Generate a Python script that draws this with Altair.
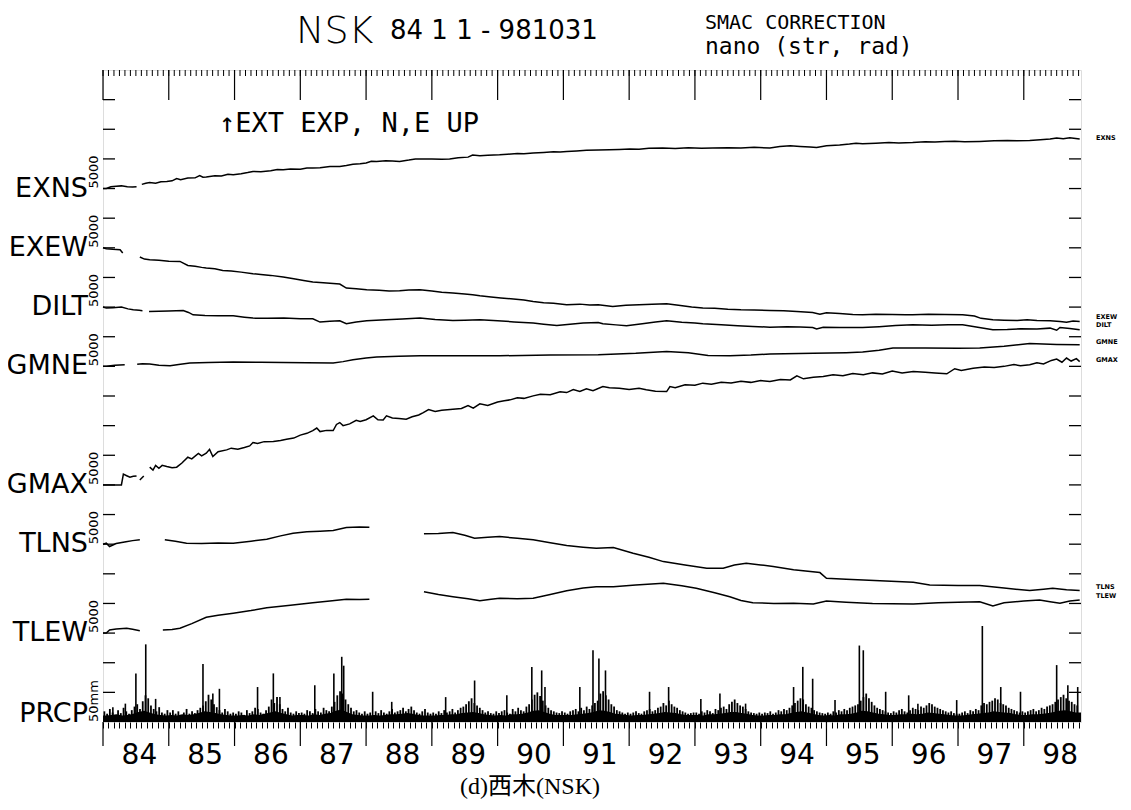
import altair as alt
import pandas as pd

# ---------------- data ----------------
X0, X1 = 84.0, 98.87          # decimal years (yy)
Y_MAX = 22                    # vertical units; 1 unit = 5000 nano or 50 mm
NANO_PER_UNIT = 5000
MM_PER_UNIT = 50

series_names = ["EXNS", "EXEW", "DILT", "GMNE", "GMAX", "TLNS", "TLEW"]
series_base = [18, 16, 14, 12, 8, 6, 3]
right_label_u = [19.72, 13.67, 13.40, 12.83, 12.22, 4.56, 4.25]

# each trace: list of segments (gaps in the record), each segment = (years, nano)
exns = [
    ([84.00, 84.05, 84.12, 84.20, 84.28, 84.37, 84.45, 84.51],
     [0, 0, 300, 400, 450, 300, 250, 300]),
    ([84.59, 84.65, 84.71, 84.80, 84.88, 84.97, 85.05, 85.12, 85.18, 85.29, 85.40, 85.47, 85.52, 85.57,
      85.70, 85.80, 85.90, 85.98, 86.10, 86.20, 86.28, 86.40, 86.55, 86.65, 86.74, 86.85, 87.00, 87.10,
      87.19, 87.30, 87.45, 87.60, 87.70, 87.80, 87.91, 88.00, 88.08, 88.16, 88.30, 88.40, 88.51, 88.65,
      88.75, 88.82, 89.00, 89.15, 89.27, 89.40, 89.55, 89.62, 89.73, 89.85, 90.03, 90.15, 90.30, 90.40,
      90.54, 90.70, 90.85, 90.95, 91.05, 91.20, 91.35, 91.53, 91.70, 91.85, 92.01, 92.15, 92.30, 92.51,
      92.70, 92.90, 93.10, 93.27, 93.50, 93.70, 93.90, 94.14, 94.29, 94.45, 94.60, 94.75, 94.85, 95.00,
      95.20, 95.35, 95.45, 95.55, 95.75, 95.95, 96.10, 96.31, 96.50, 96.65, 96.80, 96.95, 97.10, 97.33,
      97.55, 97.75, 97.90, 98.09, 98.25, 98.40, 98.50, 98.60, 98.70, 98.85],
     [700, 900, 1030, 900, 1150, 1200, 1300, 1700, 1500, 1770, 1800, 2200, 1900, 1940,
      2150, 2100, 2400, 2330, 2500, 2700, 2890, 2850, 3000, 3200, 3170, 3300, 3250, 3450,
      3460, 3500, 3700, 3730, 3900, 4100, 4190, 4300, 4600, 4570, 4700, 4650, 4570, 4800,
      5000, 4980, 5000, 4950, 4980, 5200, 5300, 5650, 5540, 5600, 5700, 5800, 5900, 5850,
      5990, 6100, 6200, 6150, 6260, 6350, 6450, 6500, 6550, 6600, 6670, 6650, 6800, 6840,
      6750, 6880, 6800, 6840, 6900, 6850, 6950, 6840, 7110, 7200, 7100, 7000, 6940, 7200,
      7350, 7500, 7650, 7560, 7650, 7750, 7700, 7780, 7900, 7850, 7950, 8000, 7900, 7950,
      8050, 8100, 8050, 8120, 8250, 8350, 8520, 8400, 8550, 8360]),
]
exew = [
    ([84.00, 84.05, 84.15, 84.26, 84.30],
     [0, -150, -250, -320, -880]),
    ([84.56, 84.63, 84.71, 84.85, 85.00, 85.17, 85.29, 85.40, 85.50, 85.57, 85.70, 85.82, 85.95, 86.10,
      86.28, 86.40, 86.55, 86.74, 86.90, 87.05, 87.19, 87.35, 87.50, 87.60, 87.70, 87.85, 88.01, 88.20,
      88.35, 88.51, 88.65, 88.82, 89.00, 89.15, 89.32, 89.50, 89.62, 89.73, 89.90, 90.05, 90.24, 90.40,
      90.54, 90.70, 90.85, 91.05, 91.25, 91.40, 91.53, 91.75, 91.95, 92.15, 92.35, 92.57, 92.75, 92.95,
      93.12, 93.30, 93.50, 93.70, 93.90, 94.14, 94.35, 94.55, 94.79, 94.90, 95.00, 95.20, 95.40, 95.55,
      95.75, 96.00, 96.20, 96.31, 96.55, 96.80, 97.07, 97.25, 97.35, 97.53, 97.70, 97.90, 98.05, 98.20,
      98.40, 98.55, 98.65, 98.75, 98.85],
     [-1550, -1900, -2010, -2100, -2250, -2300, -2970, -3100, -3300, -3410, -3550, -3810, -3900, -4100,
      -4370, -4500, -4650, -4930, -5200, -5500, -5770, -5900, -6000, -6110, -6790, -6900, -7070, -7150,
      -7300, -7240, -7100, -7070, -7300, -7500, -7630, -7800, -7900, -8090, -8300, -8450, -8640, -8800,
      -9040, -9250, -9350, -9600, -9500, -9650, -9600, -9890, -9700, -9600, -9500, -9440, -9700, -10000,
      -10160, -10200, -10350, -10450, -10500, -10570, -10600, -10750, -10900, -11200, -10950, -11100, -11250, -11290,
      -11200, -11250, -11300, -11290, -11200, -11250, -11290, -11500, -11900, -12140, -12200, -12250, -12150, -12250,
      -12300, -12420, -12550, -12350, -12420]),
]
dilt = [
    ([84.00, 84.05, 84.15, 84.28, 84.38, 84.46, 84.55, 84.60],
     [0, -170, -100, 0, -300, -460, -550, -600]),
    ([84.70, 84.85, 85.00, 85.22, 85.30, 85.37, 85.55, 85.75, 85.98, 86.15, 86.28, 86.50, 86.75, 87.00,
      87.19, 87.30, 87.45, 87.60, 87.70, 87.85, 88.01, 88.30, 88.55, 88.82, 89.05, 89.32, 89.50, 89.73,
      90.00, 90.25, 90.54, 90.70, 90.90, 91.10, 91.30, 91.53, 91.60, 91.80, 91.96, 92.20, 92.40, 92.57,
      92.80, 93.00, 93.12, 93.40, 93.65, 93.88, 94.14, 94.40, 94.60, 94.79, 94.85, 94.95, 95.20, 95.55,
      95.80, 96.05, 96.31, 96.60, 96.85, 97.07, 97.30, 97.53, 97.75, 97.95, 98.20, 98.40, 98.50, 98.55,
      98.70, 98.85],
     [-740, -700, -650, -570, -900, -1300, -1400, -1450, -1470, -1700, -1860, -1900, -1850, -1950,
      -1970, -2530, -2400, -2310, -2820, -2500, -2310, -2150, -2000, -1860, -2100, -2260, -2200, -2140,
      -2300, -2500, -2700, -2900, -3110, -2900, -2700, -2600, -2820, -3000, -3160, -2800, -2500, -2310,
      -2550, -2700, -2820, -3000, -3150, -3270, -3380, -3300, -3350, -3440, -3700, -3400, -3450, -3440,
      -3300, -3100, -2990, -3050, -3000, -2990, -3400, -3830, -3800, -3650, -3710, -3550, -3900, -3440,
      -3600, -3830]),
]
gmne = [
    ([84.00, 84.05, 84.18, 84.33],
     [0, 0, 200, 270]),
    ([84.52, 84.60, 84.71, 84.85, 85.02, 85.15, 85.32, 85.60, 85.98, 86.40, 86.74, 87.10, 87.50, 87.65,
      87.80, 88.00, 88.16, 88.50, 88.82, 89.40, 90.03, 90.80, 91.53, 92.10, 92.57, 92.90, 93.20, 93.53,
      93.85, 94.14, 94.80, 95.30, 95.55, 95.80, 96.01, 96.50, 97.00, 97.33, 97.70, 98.09, 98.50, 98.85],
     [350, 450, 390, 200, 100, 300, 560, 650, 730, 700, 660, 600, 560, 800,
      1110, 1400, 1570, 1700, 1790, 1800, 1790, 1900, 1960, 2200, 2520, 2300, 1850, 1790,
      1900, 2080, 2200, 2300, 2410, 2700, 3090, 3100, 3050, 3090, 3400, 3850, 3700, 3650]),
]
gmax = [
    ([84.00, 84.28, 84.31, 84.36, 84.41, 84.46, 84.51],
     [0, 0, 1810, 1550, 1300, 1450, 1520]),
    ([84.56, 84.62],
     [840, 1500]),
    ([84.71, 84.76, 84.80, 84.85, 84.90, 84.97, 85.05, 85.12, 85.20, 85.29, 85.35, 85.45, 85.50, 85.57,
      85.62, 85.67, 85.75, 85.88, 85.95, 86.05, 86.15, 86.23, 86.28, 86.35, 86.45, 86.59, 86.70, 86.79,
      86.90, 87.00, 87.10, 87.19, 87.25, 87.30, 87.40, 87.50, 87.55, 87.60, 87.65, 87.75, 87.85, 87.91,
      88.00, 88.11, 88.18, 88.26, 88.31, 88.40, 88.50, 88.61, 88.70, 88.80, 88.87, 88.95, 89.05, 89.15,
      89.32, 89.45, 89.55, 89.63, 89.73, 89.85, 90.00, 90.10, 90.19, 90.30, 90.40, 90.54, 90.65, 90.80,
      90.95, 91.05, 91.15, 91.25, 91.35, 91.45, 91.60, 91.70, 91.85, 92.00, 92.15, 92.26, 92.40, 92.57,
      92.62, 92.70, 92.85, 93.00, 93.12, 93.25, 93.40, 93.55, 93.70, 93.85, 94.00, 94.14, 94.30, 94.45,
      94.55, 94.65, 94.80, 94.95, 95.10, 95.25, 95.40, 95.56, 95.70, 95.85, 96.00, 96.15, 96.32, 96.50,
      96.65, 96.83, 96.95, 97.05, 97.23, 97.40, 97.55, 97.70, 97.85, 97.95, 98.09, 98.20, 98.30, 98.42,
      98.50, 98.58, 98.65, 98.72, 98.80, 98.85],
     [2990, 2500, 3300, 2800, 3300, 3090, 2900, 2990, 3700, 4670, 4400, 5300, 4900, 5350,
      6000, 4780, 5600, 5910, 6200, 6000, 6300, 6580, 7140, 7000, 7300, 7310, 7500, 7710,
      7900, 8400, 8700, 9170, 9600, 9000, 9200, 9170, 10200, 10520, 10000, 10300, 10900, 10690,
      11000, 11650, 11000, 10970, 11650, 11300, 11200, 11090, 11500, 11800, 12200, 12700, 12400, 12600,
      12780, 12900, 13400, 12950, 13670, 13400, 14000, 14200, 14350, 14700, 14600, 15020, 15300, 15200,
      15700, 15580, 16100, 15750, 16200, 15900, 16590, 16400, 16300, 16100, 16300, 16040, 15800, 15750,
      16590, 16400, 16900, 16800, 17170, 17000, 17300, 17200, 17500, 17300, 17600, 17440, 17800, 17700,
      18400, 17900, 18180, 18300, 18600, 18400, 18800, 18570, 18900, 18700, 19200, 18900, 19130, 19000,
      18900, 18740, 19600, 19300, 19700, 19900, 19800, 20000, 20300, 20100, 20260, 20600, 20400, 21000,
      21220, 20700, 21400, 20900, 21300, 20810]),
]
tlns = [
    ([84.00, 84.05, 84.10, 84.20, 84.35, 84.45, 84.56],
     [0, 170, -400, 100, 400, 600, 730]),
    ([84.94, 85.10, 85.27, 85.50, 85.75, 85.98, 86.25, 86.49, 86.70, 86.89, 87.10, 87.30, 87.50, 87.70,
      87.90, 88.05],
     [730, 500, 170, 100, 200, 170, 500, 840, 1400, 1860, 2100, 2200, 2300, 2800,
      2900, 2870]),
    ([88.88, 89.10, 89.32, 89.50, 89.65, 89.85, 90.03, 90.30, 90.54, 90.80, 91.05, 91.30, 91.50, 91.76,
      92.06, 92.30, 92.52, 92.85, 93.18, 93.43, 93.60, 93.78, 94.00, 94.19, 94.50, 94.90, 95.00, 95.30,
      95.56, 95.90, 96.32, 96.57, 97.00, 97.33, 97.70, 98.09, 98.30, 98.44, 98.65, 98.85],
     [1740, 1800, 1960, 1500, 1010, 1150, 1280, 1000, 730, 250, -240, -500, -680, -570,
      -1520, -2200, -2940, -3500, -4050, -4050, -3500, -3210, -3500, -3780, -4300, -4790, -5740, -5900,
      -6030, -6200, -6410, -6870, -6950, -6990, -7400, -7830, -7600, -7430, -7700, -7830]),
]
tlew = [
    ([84.00, 84.05, 84.10, 84.20, 84.36, 84.45, 84.56],
     [0, 0, 520, 700, 810, 650, 410]),
    ([84.91, 85.05, 85.17, 85.35, 85.57, 85.75, 85.98, 86.25, 86.49, 86.85, 87.19, 87.45, 87.70, 87.90,
      88.05],
     [520, 600, 810, 1600, 2670, 3000, 3340, 3800, 4290, 4700, 5130, 5400, 5710, 5650,
      5710]),
    ([88.88, 89.10, 89.32, 89.55, 89.73, 89.90, 90.03, 90.30, 90.54, 90.80, 91.05, 91.30, 91.50, 91.76,
      92.10, 92.52, 92.80, 93.02, 93.30, 93.53, 93.70, 93.88, 94.20, 94.50, 94.80, 95.00, 95.30, 95.70,
      96.00, 96.32, 96.70, 97.00, 97.33, 97.53, 97.70, 98.00, 98.24, 98.40, 98.55, 98.70, 98.85],
     [6990, 6500, 6140, 5800, 5470, 5700, 5870, 5800, 5870, 6500, 7160, 7600, 7830, 7830,
      8100, 8410, 8000, 7560, 6800, 6140, 5500, 5130, 5000, 5050, 4910, 5420, 5200, 5000,
      4950, 4910, 5100, 5200, 5300, 4570, 5100, 5400, 5590, 5300, 5030, 5400, 5590]),
]

# precipitation (daily, mm): tall spikes
prcp_spike_year = [84.15, 84.34, 84.50, 84.65, 84.80, 85.52, 85.67, 85.77, 86.35, 86.59, 86.69,
                   87.22, 87.51, 87.63, 87.66, 88.10, 88.39, 89.21, 89.65, 90.14, 90.52, 90.67,
                   90.72, 91.25, 91.45, 91.54, 91.64, 92.31, 92.60, 93.09, 93.38, 93.77, 94.50,
                   94.64, 94.79, 95.13, 95.50, 95.56, 95.90, 96.25, 96.39, 96.98, 97.37, 97.65,
                   97.95, 98.50, 98.67, 98.82]
prcp_spike_mm = [25, 31, 82, 131, 39, 98, 48, 56, 59, 82, 42,
                 62, 82, 110, 95, 51, 34, 42, 70, 45, 93, 87,
                 59, 59, 121, 107, 87, 51, 59, 39, 48, 31, 59,
                 93, 73, 37, 129, 121, 51, 45, 31, 37, 162, 59,
                 51, 96, 62, 59]
# dense needles: peak rain in each half-month slot (24 per year), mm
prcp_halfmonth_mm = {
    84: [18, 14, 22, 16, 12, 20, 15, 24, 18, 14, 20, 26, 30, 22, 35, 45, 40, 28, 22, 18, 25, 16, 14, 20],
    85: [16, 20, 14, 18, 12, 16, 22, 14, 18, 15, 20, 24, 28, 35, 46, 38, 30, 25, 20, 16, 22, 18, 14, 16],
    86: [14, 18, 16, 12, 20, 15, 18, 24, 22, 16, 14, 20, 26, 38, 32, 42, 30, 22, 18, 24, 16, 14, 18, 15],
    87: [16, 14, 20, 18, 15, 22, 18, 16, 24, 20, 18, 26, 34, 45, 52, 48, 38, 30, 24, 18, 20, 16, 14, 18],
    88: [14, 16, 12, 18, 15, 20, 16, 14, 18, 22, 16, 18, 20, 24, 18, 22, 26, 20, 16, 14, 18, 22, 16, 14],
    89: [16, 14, 18, 15, 20, 16, 18, 22, 16, 20, 24, 26, 30, 35, 40, 32, 28, 24, 20, 16, 18, 15, 14, 18],
    90: [15, 18, 20, 16, 14, 22, 18, 24, 20, 18, 26, 30, 38, 46, 50, 44, 36, 28, 24, 20, 18, 16, 15, 18],
    91: [16, 14, 18, 20, 22, 18, 24, 20, 26, 22, 28, 32, 36, 48, 52, 45, 38, 30, 26, 20, 18, 16, 14, 16],
    92: [14, 16, 18, 15, 14, 18, 20, 22, 18, 20, 24, 26, 32, 28, 36, 30, 26, 24, 20, 18, 16, 14, 15, 16],
    93: [16, 14, 18, 16, 20, 18, 15, 22, 20, 24, 26, 22, 30, 34, 38, 32, 28, 26, 22, 18, 16, 15, 14, 16],
    94: [14, 16, 15, 18, 14, 16, 20, 18, 22, 20, 24, 28, 32, 36, 40, 38, 30, 26, 24, 20, 18, 16, 15, 14],
    95: [16, 14, 18, 16, 20, 18, 22, 20, 24, 26, 28, 30, 36, 42, 48, 40, 34, 28, 24, 22, 20, 18, 16, 15],
    96: [18, 16, 20, 22, 18, 16, 20, 24, 22, 20, 26, 24, 28, 32, 30, 26, 24, 22, 20, 18, 16, 18, 15, 14],
    97: [14, 16, 18, 15, 20, 18, 22, 20, 28, 32, 30, 34, 36, 40, 38, 32, 30, 28, 24, 22, 20, 18, 16, 18],
    98: [16, 18, 20, 22, 18, 20, 24, 22, 26, 28, 30, 34, 38, 42, 46, 40, 36, 34, 30, 28],
}
# solid low background of the daily bars, monthly, mm
prcp_month_mm = {
    84: [11, 12, 13, 11, 12, 14, 17, 19, 16, 13, 12, 11],
    85: [12, 11, 13, 12, 13, 15, 18, 17, 15, 13, 12, 11],
    86: [11, 12, 11, 13, 12, 14, 16, 18, 15, 13, 11, 12],
    87: [12, 11, 13, 12, 14, 15, 19, 21, 17, 13, 12, 11],
    88: [11, 12, 11, 12, 13, 13, 14, 15, 14, 12, 11, 11],
    89: [11, 12, 12, 13, 13, 15, 16, 17, 15, 13, 12, 11],
    90: [12, 11, 13, 13, 14, 16, 19, 20, 17, 14, 12, 12],
    91: [12, 12, 13, 14, 15, 17, 20, 19, 17, 14, 13, 12],
    92: [11, 12, 12, 13, 14, 15, 17, 16, 15, 13, 12, 12],
    93: [12, 11, 13, 13, 14, 15, 17, 17, 15, 14, 12, 11],
    94: [11, 12, 12, 13, 13, 15, 17, 18, 16, 14, 12, 11],
    95: [12, 11, 13, 13, 14, 16, 19, 18, 16, 14, 13, 12],
    96: [12, 13, 13, 14, 13, 14, 16, 15, 14, 13, 12, 11],
    97: [11, 12, 13, 14, 15, 16, 18, 17, 16, 15, 13, 12],
    98: [12, 13, 13, 14, 15, 17, 19, 20, 18, 16],
}

# ---------------- build tables ----------------
raw = {"EXNS": exns, "EXEW": exew, "DILT": dilt, "GMNE": gmne,
       "GMAX": gmax, "TLNS": tlns, "TLEW": tlew}
rows = []
for name, base in zip(series_names, series_base):
    for s, (yrs, vals) in enumerate(raw[name]):
        for yv, v in zip(yrs, vals):
            rows.append({"year": yv, "u": base + v / NANO_PER_UNIT, "key": f"{name}-{s}"})
traces = pd.DataFrame(rows)

spikes = pd.DataFrame({"year": prcp_spike_year,
                       "u": [m / MM_PER_UNIT for m in prcp_spike_mm], "u0": 0.0})
needle_rows = []
for yr, vals in prcp_halfmonth_mm.items():
    for i, m in enumerate(vals):
        needle_rows.append({"year": yr + (i + 0.5) / 24, "u": m / MM_PER_UNIT, "u0": 0.0})
needles = pd.DataFrame(needle_rows)
bg_rows = [{"year": X0, "u": 11 / MM_PER_UNIT, "u0": 0.0}]
for yr, vals in prcp_month_mm.items():
    for i, m in enumerate(vals):
        bg_rows.append({"year": yr + (i + 0.5) / 12, "u": m / MM_PER_UNIT, "u0": 0.0})
bg_rows.append({"year": X1, "u": 16 / MM_PER_UNIT, "u0": 0.0})
bg = pd.DataFrame(bg_rows)

left_labels = pd.DataFrame({"name": series_names + ["PRCP"],
                            "u": series_base + [0.27],
                            "scale": ["5000"] * 7 + ["50mm"],
                            "u_scale": series_base + [0.0]})
right_labels = pd.DataFrame({"name": series_names, "u": right_label_u})

month_ticks = [84 + m / 12 for m in range(0, 12 * 15) if 84 + m / 12 <= X1]
year_ticks = list(range(84, 99))
unit_ticks = list(range(1, Y_MAX))

W, H = 978, 652
FONT = "DejaVu Sans"
MONO = "DejaVu Sans Mono"

xs = alt.Scale(domain=[X0, X1], nice=False, zero=False)
ys = alt.Scale(domain=[0, Y_MAX], nice=False, zero=False)
xaxis = alt.Axis(values=month_ticks, tickSize=6, tickColor="black", tickWidth=1,
                 domain=False, grid=False, title=None,
                 labelExpr="(round(datum.value*12) % 12 == 6) ? format(floor(datum.value), 'd') : ''",
                 labelFont=FONT, labelFontSize=28, labelColor="black", labelPadding=13,
                 labelOffset=3, labelOverlap=False, labelFlush=False, labelBound=False)
X = alt.X("year:Q", scale=xs, axis=xaxis)
Y = alt.Y("u:Q", scale=ys, axis=None)

lines = alt.Chart(traces).mark_line(color="black", strokeWidth=1.5).encode(
    x=X, y=Y, detail="key:N")

bg_area = alt.Chart(bg).mark_area(color="black", opacity=1).encode(
    x=X, y=Y, y2="u0:Q")
needle_rules = alt.Chart(needles).mark_rule(color="black", strokeWidth=1.8).encode(
    x=X, y=Y, y2="u0:Q")
spike_rules = alt.Chart(spikes).mark_rule(color="black", strokeWidth=1.6).encode(
    x=X, y=Y, y2="u0:Q")

mt = pd.DataFrame({"year": month_ticks})
yt = pd.DataFrame({"year": year_ticks})
top_month = alt.Chart(mt).mark_rule(color="black", strokeWidth=1).encode(
    x=X, y=alt.value(0), y2=alt.value(6))
top_year = alt.Chart(yt).mark_rule(color="black", strokeWidth=1.2).encode(
    x=X, y=alt.value(0), y2=alt.value(30))
bottom_year = alt.Chart(yt).mark_rule(color="black", strokeWidth=1.2).encode(
    x=X, y=alt.value(H), y2=alt.value(H + 24))

ut = pd.DataFrame({"u": unit_ticks})
left_ticks = alt.Chart(ut).mark_rule(color="black", strokeWidth=1.3).encode(
    y=Y, x=alt.value(0), x2=alt.value(12))
right_ticks = alt.Chart(ut).mark_rule(color="black", strokeWidth=1.3).encode(
    y=Y, x=alt.value(W - 12), x2=alt.value(W))

lab = alt.Chart(left_labels).mark_text(font=FONT, fontSize=27, align="right",
                                       baseline="middle", color="black").encode(
    y=Y, x=alt.value(-15), text="name:N")
lab_scale = alt.Chart(left_labels).mark_text(font=FONT, fontSize=13, align="left",
                                             baseline="middle", angle=270, color="black").encode(
    y=alt.Y("u_scale:Q", scale=ys, axis=None), x=alt.value(-9), text="scale:N")
rlab = alt.Chart(right_labels).mark_text(font=FONT, fontSize=6.5, fontWeight="bold", align="left",
                                         baseline="middle", color="black").encode(
    y=Y, x=alt.value(W + 15), text="name:N")


def note(txt, x, y, size, **kw):
    return alt.Chart(pd.DataFrame({"t": [txt]})).mark_text(
        font=kw.pop("font", FONT), fontSize=size, color="black", **kw).encode(
        x=alt.value(x), y=alt.value(y), text="t:N")


title_nsk = note("NSK", 193, -27, 38, align="left", baseline="alphabetic", fontWeight=200)
title_dates = note("84 1 1 - 981031", 287, -31, 26, align="left", baseline="alphabetic")
title_smac = note("SMAC CORRECTION", 602, -41, 20, align="left", baseline="alphabetic", font=MONO)
title_nano = note("nano (str, rad)", 602, -16, 23, align="left", baseline="alphabetic", font=MONO)
annot = note("\u2191EXT EXP, N,E UP", 116, 62, 27, align="left", baseline="alphabetic", font=MONO)
caption = note("(d)\u897f\u6728(NSK)", 427, 724, 24, align="center", baseline="alphabetic",
               font="Liberation Serif, Noto Sans CJK JP")

chart = alt.layer(
    bg_area, needle_rules, spike_rules, lines,
    top_month, top_year, bottom_year, left_ticks, right_ticks,
    lab, lab_scale, rlab,
    title_nsk, title_dates, title_smac, title_nano, annot, caption,
).properties(
    width=W, height=H,
    autosize=alt.AutoSizeParams(type="none"),
    padding={"left": 95, "top": 62, "right": 42, "bottom": 80},
).configure_view(
    stroke="black", strokeWidth=1.6
).configure(background="white")

chart.save("out.html", embed_options={"renderer": "svg", "actions": False})
